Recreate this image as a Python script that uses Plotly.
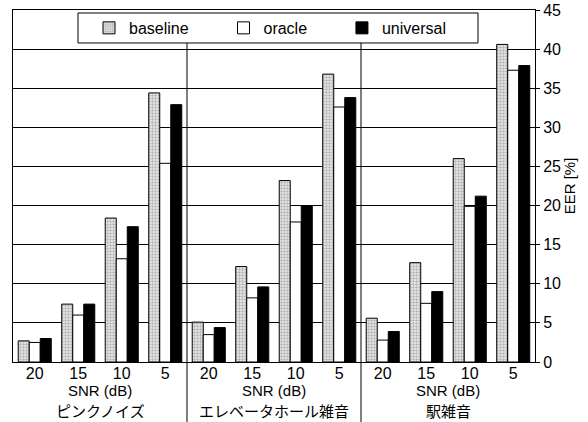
import plotly.graph_objects as go

# ---- data ----
groups = ["ピンクノイズ", "エレベータホール雑音", "駅雑音"]
snr_labels = ["20", "15", "10", "5"]
baseline = [2.7, 7.4, 18.4, 34.4,   5.1, 12.2, 23.2, 36.8,   5.6, 12.7, 26.0, 40.6]
oracle   = [2.5, 6.0, 13.2, 25.4,   3.5,  8.2, 17.9, 32.6,   2.8,  7.5, 19.9, 37.3]
universal = [3.0, 7.4, 17.3, 32.9,  4.4,  9.6, 20.0, 33.8,   3.9,  9.0, 21.2, 37.9]
series_names = ["baseline", "oracle", "universal"]
y_ticks = [0, 5, 10, 15, 20, 25, 30, 35, 40, 45]

n_snr = len(snr_labels)
n_cat = n_snr * len(groups)
xs = list(range(n_cat))
ticktext = snr_labels * len(groups)

FONT = "Liberation Sans, Arial, Noto Sans CJK JP, sans-serif"
PAD = "\u00a0" * 6 + "\u2009"

fig = go.Figure()
fig.add_trace(go.Bar(
    x=xs, y=baseline, name=series_names[0] + PAD,
    marker=dict(color="#eeeeee", line=dict(color="black", width=1),
                pattern=dict(shape=".", fgcolor="#7a7a7a", bgcolor="#eeeeee",
                             size=3, solidity=0.5)),
))
fig.add_trace(go.Bar(
    x=xs, y=oracle, name=series_names[1] + PAD,
    marker=dict(color="white", line=dict(color="black", width=1)),
))
fig.add_trace(go.Bar(
    x=xs, y=universal, name=series_names[2] + PAD,
    marker=dict(color="black", line=dict(color="black", width=1)),
))

shapes = []
# legend box
shapes.append(dict(type="rect", xref="paper", yref="paper",
                   x0=0.1245, x1=0.8908, y0=0.9063, y1=0.9915,
                   fillcolor="white", line=dict(color="black", width=1),
                   layer="above"))
# group separators
for g in range(1, len(groups)):
    xpos = g * n_snr - 0.5
    shapes.append(dict(type="line", xref="x", yref="paper", x0=xpos, x1=xpos,
                       y0=-0.171, y1=0.9063, line=dict(color="black", width=1),
                       layer="above"))

annotations = []
for g, name in enumerate(groups):
    xc = g * n_snr + (n_snr - 1) / 2
    annotations.append(dict(x=xc, y=-0.080, xref="x", yref="paper",
                            text="SNR (dB)", showarrow=False, yanchor="middle",
                            font=dict(size=15, color="black", family=FONT)))
    annotations.append(dict(x=xc, y=-0.138, xref="x", yref="paper",
                            text=name, showarrow=False, yanchor="middle",
                            font=dict(size=15, color="black", family="Noto Sans CJK JP")))

fig.update_layout(
    width=588, height=422,
    margin=dict(l=13, r=53, t=10, b=60, autoexpand=False),
    paper_bgcolor="white", plot_bgcolor="white",
    barmode="group", bargap=0.24, bargroupgap=0,
    font=dict(family=FONT, size=16, color="black"),
    shapes=shapes, annotations=annotations,
    legend=dict(orientation="h", x=0.1456, xanchor="left", y=0.949, yanchor="middle",
                bgcolor="rgba(0,0,0,0)", borderwidth=0,
                font=dict(size=16, family=FONT), traceorder="normal"),
    xaxis=dict(tickvals=xs, ticktext=ticktext, range=[-0.5, n_cat - 0.5],
               showline=True, mirror=True, linecolor="black", linewidth=1,
               showgrid=False, ticks="", tickfont=dict(size=16), automargin=False,
               ticklabelstandoff=-3),
    yaxis=dict(side="right", range=[0, 45], tickvals=y_ticks,
               showline=True, mirror=True, linecolor="black", linewidth=1,
               showgrid=True, gridcolor="black", gridwidth=1,
               ticks="outside", ticklen=4, tickcolor="black",
               tickfont=dict(size=16), automargin=False,
               ticklabeloverflow="allow",
               title=dict(text="EER [%]", font=dict(size=15), standoff=2)),
)

fig.write_html("out.html", config={"displayModeBar": False},
               post_script="document.body.style.margin='0px';")
